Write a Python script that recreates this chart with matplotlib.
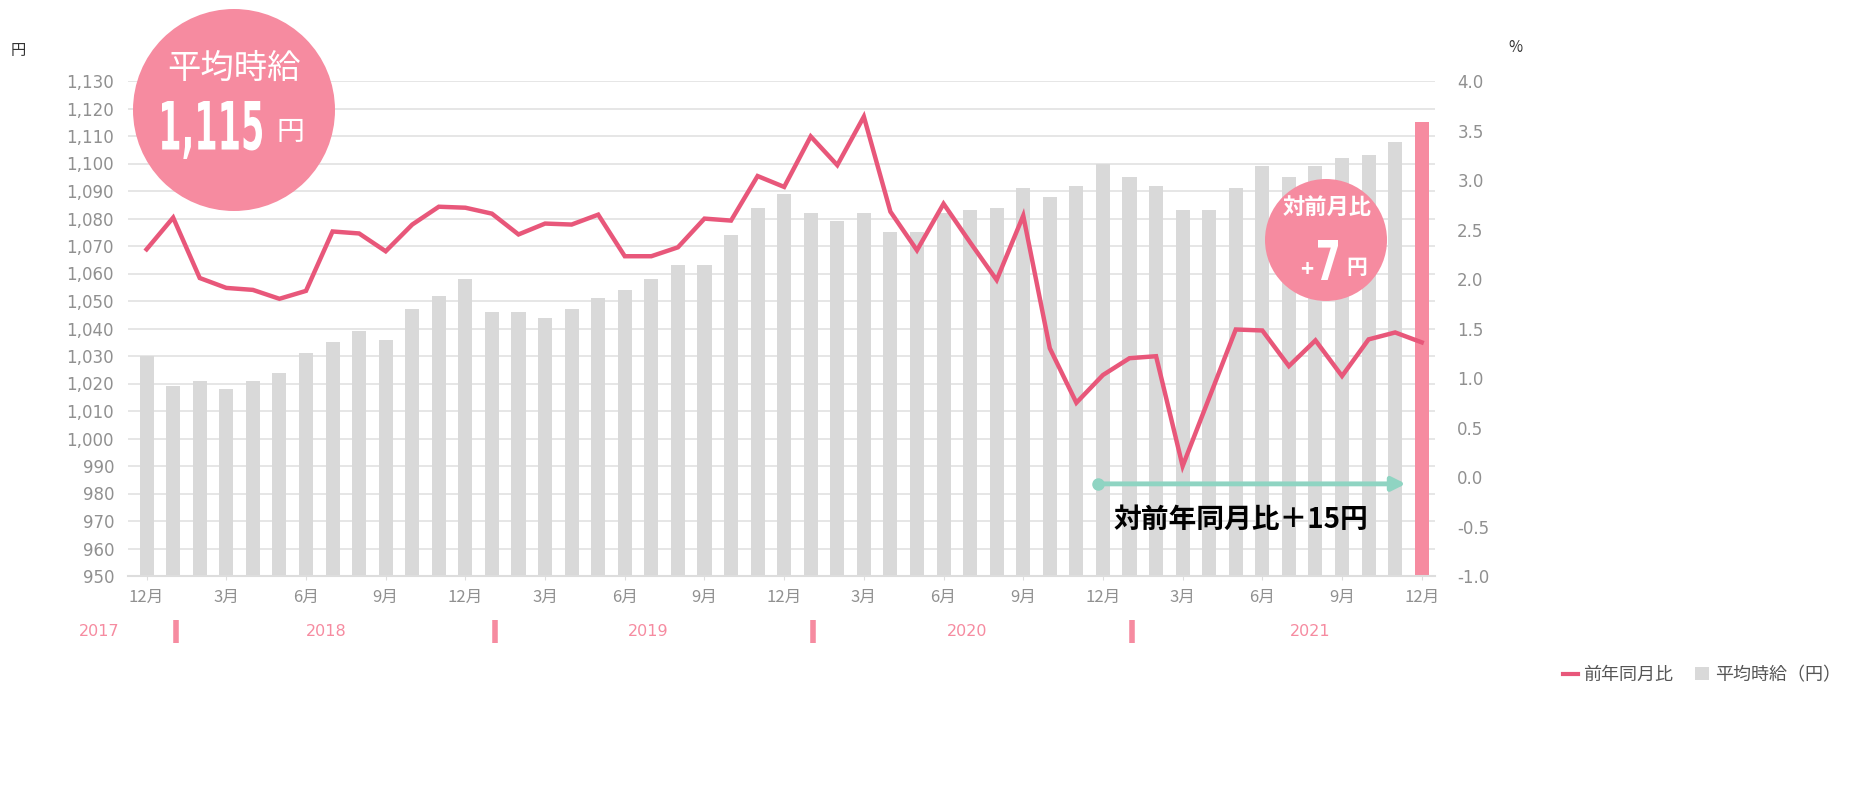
import matplotlib
matplotlib.use("Agg")
import matplotlib.pyplot as plt
from matplotlib.patches import Ellipse, Patch, PathPatch
from matplotlib.lines import Line2D
from matplotlib.textpath import TextPath
from matplotlib.font_manager import FontProperties
import matplotlib.transforms as mtransforms

# data: Dec 2017 .. Dec 2021 (49 months)
months = ["12月", "1月", "2月", "3月", "4月", "5月", "6月", "7月", "8月", "9月", "10月", "11月"] * 4 + ["12月"]
wage = [1030, 1019, 1021, 1018, 1021, 1024, 1031, 1035, 1039, 1036, 1047, 1052,
        1058, 1046, 1046, 1044, 1047, 1051, 1054, 1058, 1063, 1063, 1074, 1084,
        1089, 1082, 1079, 1082, 1075, 1075, 1082, 1083, 1084, 1091, 1088, 1092,
        1100, 1095, 1092, 1083, 1083, 1091, 1099, 1095, 1099, 1102, 1103, 1108,
        1115]
yoy = [2.30, 2.62, 2.01, 1.91, 1.89, 1.80, 1.88, 2.48, 2.46, 2.28, 2.55, 2.73,
       2.72, 2.66, 2.45, 2.56, 2.55, 2.65, 2.23, 2.23, 2.32, 2.61, 2.59, 3.04,
       2.93, 3.44, 3.15, 3.64, 2.68, 2.29, 2.76, 2.37, 1.99, 2.64, 1.30, 0.75,
       1.03, 1.20, 1.22, 0.11, 0.80, 1.49, 1.48, 1.12, 1.38, 1.02, 1.39, 1.46,
       1.36]
years = ["2017", "2018", "2019", "2020", "2021"]
year_x = [-1.77, 6.76, 18.9, 30.9, 43.8]

plt.rcParams['font.family'] = ['Noto Sans CJK JP', 'DejaVu Sans']

PINK_LINE = "#e8577a"
PINK = "#f68ba0"
GREY_BAR = "#d9d9d9"
TICK = "#909090"

W, H = 1856, 810
fig = plt.figure(figsize=(W / 100, H / 100), dpi=100)
ax = fig.add_axes([128 / W, 1 - 576 / H, (1435 - 128) / W, (576 - 81) / H])

x = list(range(len(wage)))
colors = [GREY_BAR] * (len(wage) - 1) + [PINK]
ax.bar(x, [w - 950 for w in wage], bottom=950, width=0.53, color=colors, zorder=2)
ax.set_ylim(950, 1130)
ax.set_xlim(-0.7, 48.5)
ax.set_yticks(range(950, 1131, 10))
ax.set_yticklabels([f"{v:,}" for v in range(950, 1131, 10)], family='DejaVu Sans',
                   fontsize=12, color=TICK)
ax.grid(axis='y', color='#e4e4e4', lw=1.3, zorder=0)
ax.set_axisbelow(True)
ax.set_xticks(x[::3])
ax.set_xticklabels(months[::3], fontsize=12, color=TICK)
ax.tick_params(axis='x', length=3, color='#dddddd', pad=6)
ax.tick_params(axis='y', length=0, pad=10)
for s in ['top', 'right', 'left']:
    ax.spines[s].set_visible(False)
ax.spines['bottom'].set_color('#dddddd')
ax.spines['bottom'].set_linewidth(1.5)

ax2 = ax.twinx()
ax2.plot(x, yoy, color=PINK_LINE, lw=3.2, solid_joinstyle='miter', zorder=3)
ax2.set_ylim(-1.0, 4.0)
ax2.set_yticks([v / 2 for v in range(-2, 9)])
ax2.set_yticklabels([f"{v / 2:.1f}" for v in range(-2, 9)], family='DejaVu Sans',
                    fontsize=12, color=TICK)
ax2.tick_params(axis='y', length=0, pad=16)
for s in ['top', 'right', 'left', 'bottom']:
    ax2.spines[s].set_visible(False)

# year labels and separators under the month ticks
trans = mtransforms.blended_transform_factory(ax.transData, fig.transFigure)
for yx, yl in zip(year_x, years):
    fig.text(yx, 1 - 632 / H, yl, transform=trans, ha='center', va='center',
             fontsize=11.5, color=PINK, family='DejaVu Sans')
for k in range(4):
    ax.plot([12 * k + 1.1] * 2, [1 - 620 / H, 1 - 643 / H], transform=trans,
            color=PINK, lw=4, clip_on=False, solid_capstyle='butt')

# arrow: year-over-year change
ax.annotate("", xy=(47.4, 983.5), xytext=(35.8, 983.5),
            arrowprops=dict(arrowstyle='-|>,head_length=0.8,head_width=0.4', color='#8fd4c2',
                            lw=3.5, shrinkA=0, shrinkB=0), zorder=5)
ax.plot([35.8], [983.5], 'o', color='#8fd4c2', ms=8, zorder=5)
ax.text(41.2, 970.5, "対前年同月比＋15円", ha='center', va='center', fontsize=20,
        fontweight='bold', color='black', zorder=6)


def circle(cx, cy, r):
    fig.add_artist(Ellipse((cx / W, 1 - cy / H), 2 * r / W, 2 * r / H,
                           transform=fig.transFigure, color=PINK, lw=0, zorder=5))


def condensed(s, cx, cy, w, h):
    # bold digits squeezed into a w x h pixel box centred on (cx, cy)
    tp = TextPath((0, 0), s, size=100, prop=FontProperties(family='DejaVu Sans', weight='bold'))
    bb = tp.get_extents()
    tr = (mtransforms.Affine2D()
          .translate(-bb.x0 - bb.width / 2, -bb.y0 - bb.height / 2)
          .scale(w / bb.width, h / bb.height)
          .translate(cx, H - cy)
          .scale(1 / W, 1 / H) + fig.transFigure)
    fig.add_artist(PathPatch(tp, transform=tr, color='white', lw=0, zorder=6))


circle(234, 110, 101)
fig.text(234 / W, 1 - 68 / H, "平均時給", ha='center', va='center', fontsize=24,
         color='white', zorder=6)
condensed("1,115", 212, 130, 100, 58)
fig.text(290 / W, 1 - 132 / H, "円", ha='center', va='center', fontsize=20,
         color='white', zorder=6)

circle(1326, 240, 61)
fig.text(1327 / W, 1 - 207 / H, "対前月比", ha='center', va='center', fontsize=16,
         fontweight='bold', color='white', zorder=6)
fig.text(1307 / W, 1 - 270 / H, "+", ha='center', va='center', fontsize=16,
         fontweight='bold', color='white', zorder=6)
condensed("7", 1328, 260, 20, 40)
fig.text(1357 / W, 1 - 268 / H, "円", ha='center', va='center', fontsize=15,
         fontweight='bold', color='white', zorder=6)

# unit labels
fig.text(18 / W, 1 - 50 / H, "円", ha='center', va='center', fontsize=11, color='#333333')
fig.text(1515 / W, 1 - 48 / H, "%", ha='center', va='center', fontsize=11, color='#333333')

# legend
handles = [Line2D([], [], color=PINK_LINE, lw=3),
           Patch(facecolor=GREY_BAR, edgecolor='none')]
fig.legend(handles, ["前年同月比", "平均時給（円）"], loc='center right',
           bbox_to_anchor=(1848 / W, 1 - 675 / H), ncol=2, frameon=False, fontsize=13,
           labelcolor='#555555', handlelength=0.8, handletextpad=0.3, columnspacing=1.2,
           borderaxespad=0)

fig.savefig("out.png", dpi=100)
